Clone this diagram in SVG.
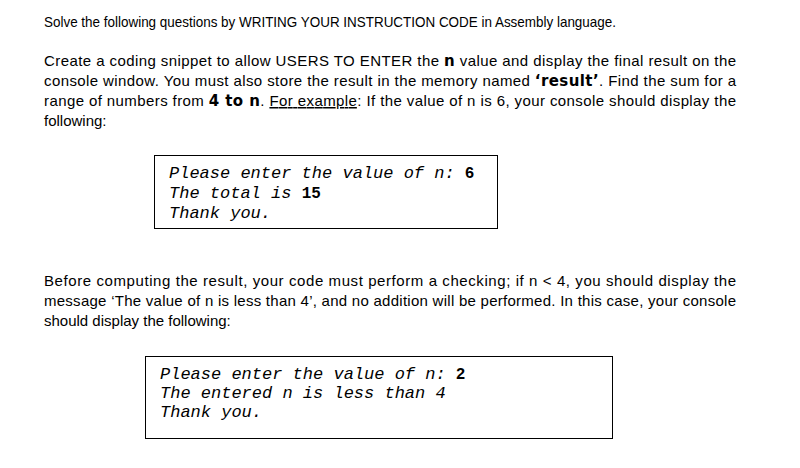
<svg xmlns="http://www.w3.org/2000/svg" width="800" height="468" viewBox="0 0 800 468">
<style>
.b{font-family:"Liberation Sans",sans-serif;font-size:15px;fill:#000}
.k{font-family:"DejaVu Sans",sans-serif;font-weight:bold}
.m{font-family:"Liberation Mono",monospace;font-size:17px;font-style:italic;fill:#000}
.mb{font-style:normal;font-weight:bold;font-size:16px}
.box{fill:#fff;stroke:#000;stroke-width:1}
</style>
<rect width="800" height="468" fill="#fff"/>
<text class="b" x="44" y="27" font-size="14" textLength="572" lengthAdjust="spacingAndGlyphs">Solve the following questions by WRITING YOUR INSTRUCTION CODE in Assembly language.</text>
<text class="b" x="44" y="66" textLength="692">Create a coding snippet to allow USERS TO ENTER the <tspan class="k">n</tspan> value and display the final result on the</text>
<text class="b" x="44" y="86" textLength="692">console window. You must also store the result in the memory named <tspan class="k">‘result’</tspan>. Find the sum for a</text>
<text class="b" x="44" y="106" textLength="692">range of numbers from <tspan class="k">4 to n</tspan>. <tspan text-decoration="underline">For example</tspan>: If the value of n is 6, your console should display the</text>
<text class="b" x="44" y="126">following:</text>
<g id="box1">
<rect class="box" x="154.5" y="155.5" width="343" height="73"/>
<text class="m" x="169" y="178">Please enter the value of n: <tspan class="mb">6</tspan></text>
<text class="m" x="169" y="198">The total is <tspan class="mb">15</tspan></text>
<text class="m" x="169" y="218">Thank you.</text>
</g>
<text class="b" x="44" y="286" textLength="692">Before computing the result, your code must perform a checking; if n &lt; 4, you should display the</text>
<text class="b" x="44" y="306" textLength="692">message ‘The value of n is less than 4’, and no addition will be performed. In this case, your console</text>
<text class="b" x="44" y="326">should display the following:</text>
<g id="box2">
<rect class="box" x="145.5" y="356.5" width="467" height="82"/>
<text class="m" x="160" y="379">Please enter the value of n: <tspan class="mb">2</tspan></text>
<text class="m" x="160" y="398">The entered n is less than 4</text>
<text class="m" x="160" y="417">Thank you.</text>
</g>
</svg>
